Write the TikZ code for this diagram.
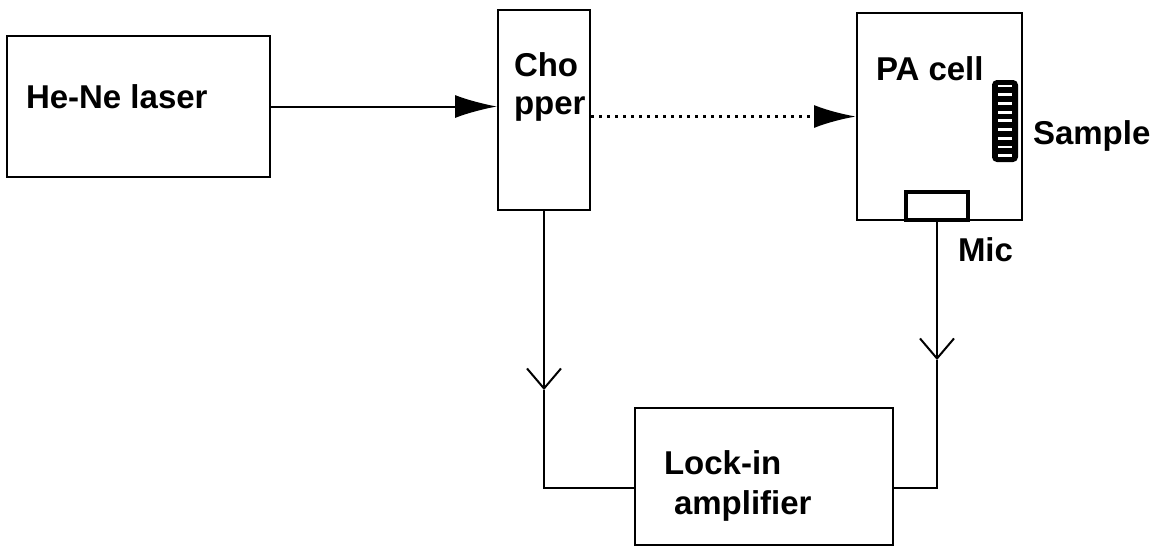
\documentclass[tikz,border=0pt]{standalone}
\usepackage{fontspec}
\setmainfont{Liberation Sans}
\usetikzlibrary{arrows.meta, positioning, calc}

\begin{document}
\begin{tikzpicture}[x=0.5pt, y=-0.5pt, line width=1pt,
    box/.style={draw, rectangle, inner sep=0pt},
    lbl/.style={font=\fontsize{16.5}{19}\selectfont\bfseries, inner sep=0pt, anchor=west, align=left},
    beam/.style={-{Latex[length=21pt,width=11.5pt]}},
    sig/.style={-{Straight Barb[length=10pt,width=17pt]}}]

    \useasboundingbox (0,0) rectangle (1158,548);

    % ================= Blocks =================
    \node[box, minimum width=131.5pt, minimum height=70.5pt] (laser) at (138.5,106.5) {};
    \node[box, minimum width=46pt, minimum height=100pt] (chopper) at (544,110) {};
    \node[box, minimum width=82.5pt, minimum height=103.5pt] (pacell) at (939.5,116.5) {};
    \node[box, line width=1.6pt, minimum width=31pt, minimum height=14pt] (mic) at (937,206) {};
    \node[box, minimum width=129pt, minimum height=68.5pt] (lockin) at (764,476.5) {};

    % sample (striped)
    \node[box, fill=black, rounded corners=2pt, minimum width=12pt, minimum height=40pt] (sample) at (1005,121) {};
    \foreach \k in {0,...,8}
        \draw[white, line width=1.4pt] (998,{86+\k*8.7}) -- (1012,{86+\k*8.7});

    % ================= Labels =================
    \node[lbl] (lasertxt) at (25,97) {He-Ne laser};
    \node[lbl] (choptxt) at (513,86.5) {Cho\\pper};
    \node[lbl] (celltxt) at (875,69) {PA cell};
    \node[lbl] (sampletxt) at (1032,136) {Sample};
    \node[lbl] (mictxt) at (957,250) {Mic};
    \node[lbl, font=\fontsize{16.5}{20}\selectfont\bfseries] (locktxt) at (663,486) {Lock-in\\\hspace{5pt}amplifier};

    % ================= Beam =================
    \draw[beam] (laser.east) -- (laser.east -| chopper.west);
    \draw[beam, line width=1.5pt, dash pattern=on 1.5pt off 2.5pt] (pacell.west -| chopper.east) -- (pacell.west);

    % ================= Signals =================
    \coordinate (chopmid) at (544,390);
    \coordinate (chopturn) at (544,488);
    \coordinate (micmid) at (937,360);
    \coordinate (micturn) at (937,488);
    \draw[sig] (chopper.south) -- (chopmid);
    \draw (chopmid) -- (chopturn) -- (chopturn -| lockin.west);
    \draw[sig] (mic.south) -- (micmid);
    \draw (micmid) -- (micturn) -- (micturn -| lockin.east);

\end{tikzpicture}
\end{document}
